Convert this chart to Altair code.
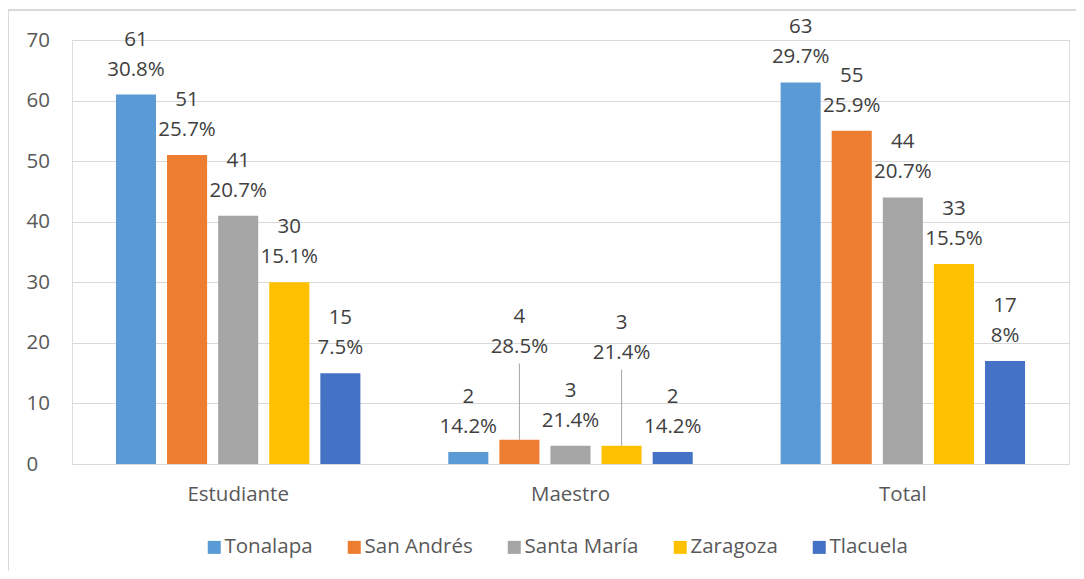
import altair as alt
import pandas as pd

# ---------------- data ----------------
groups = ["Estudiante", "Maestro", "Total"]
series = ["Tonalapa", "San Andrés", "Santa María", "Zaragoza", "Tlacuela"]
colors = ["#5B9BD5", "#ED7D31", "#A5A5A5", "#FFC000", "#4472C4"]

tonalapa = [61, 2, 63]
san_andres = [51, 4, 55]
santa_maria = [41, 3, 44]
zaragoza = [30, 3, 33]
tlacuela = [15, 2, 17]

tonalapa_pct = ["30.8%", "14.2%", "29.7%"]
san_andres_pct = ["25.7%", "28.5%", "25.9%"]
santa_maria_pct = ["20.7%", "21.4%", "20.7%"]
zaragoza_pct = ["15.1%", "21.4%", "15.5%"]
tlacuela_pct = ["7.5%", "14.2%", "8%"]

y_ticks = [0, 10, 20, 30, 40, 50, 60, 70]

# labels that Excel moved up with a leader line
leader_labels = {("Maestro", "San Andrés"), ("Maestro", "Zaragoza")}

FONT = "Open Sans"
LABEL_LIFT = 11.2   # axis units the moved labels are raised
LEADER_TOP = 12.6   # axis units where leader line ends

values = [tonalapa, san_andres, santa_maria, zaragoza, tlacuela]
pcts = [tonalapa_pct, san_andres_pct, santa_maria_pct, zaragoza_pct, tlacuela_pct]

rows = []
for s, vals, ps in zip(series, values, pcts):
    for g, v, p in zip(groups, vals, ps):
        lead = (g, s) in leader_labels
        rows.append({
            "group": g, "series": s, "value": v, "pct": p,
            "labely": v + (LABEL_LIFT if lead else 0),
            "leadtop": v + LEADER_TOP,
            "lead": lead,
        })
df = pd.DataFrame(rows)

x_enc = alt.X(
    "group:N", sort=groups,
    scale=alt.Scale(paddingInner=0, paddingOuter=0),
    axis=alt.Axis(title=None, labelAngle=0, domain=False, ticks=False, grid=False,
                  labelFontSize=20.5, labelColor="#595959", labelFont=FONT,
                  labelPadding=20),
)
xoff_enc = alt.XOffset(
    "series:N", sort=series,
    scale=alt.Scale(paddingInner=0.216, paddingOuter=0.86),
)
y_scale = alt.Scale(domain=[0, 70], nice=False)

bars = alt.Chart(df).mark_bar().encode(
    x=x_enc,
    xOffset=xoff_enc,
    y=alt.Y("value:Q", scale=y_scale,
            axis=alt.Axis(values=y_ticks, title=None, grid=True, gridColor="#d9d9d9",
                          gridWidth=1.2, domain=False, ticks=False, tickSize=0,
                          labelAlign="left", labelPadding=46, labelFontSize=20.5,
                          labelColor="#595959", labelFont=FONT, labelBaseline="middle")),
    color=alt.Color("series:N", sort=series,
                    scale=alt.Scale(domain=series, range=colors),
                    legend=alt.Legend(title=None, orient="none", legendX=132, legendY=497,
                                      direction="horizontal", symbolType="square",
                                      symbolSize=169, symbolStrokeWidth=0,
                                      labelFontSize=20.5, labelColor="#595959",
                                      labelFont=FONT, columnPadding=31, labelOffset=0)),
)

pct_text = alt.Chart(df).mark_text(
    dy=-25, fontSize=20.5, color="#404040", font=FONT, baseline="middle"
).encode(x=x_enc, xOffset=xoff_enc, y=alt.Y("labely:Q", scale=y_scale), text="pct:N")

val_text = alt.Chart(df).mark_text(
    dy=-55, fontSize=20.5, color="#404040", font=FONT, baseline="middle"
).encode(x=x_enc, xOffset=xoff_enc, y=alt.Y("labely:Q", scale=y_scale), text="value:Q")

leaders = alt.Chart(df).transform_filter("datum.lead").mark_rule(
    color="#a6a6a6", strokeWidth=1
).encode(x=x_enc, xOffset=xoff_enc, y=alt.Y("value:Q", scale=y_scale), y2="leadtop:Q")

# chart-area border (top and left edges visible in the reference)
border_top = alt.Chart(df).mark_rule(color="#d9d9d9", strokeWidth=1.5).encode(
    x=alt.value(-64), x2=alt.value(1015), y=alt.value(-30))
border_left = alt.Chart(df).mark_rule(color="#d9d9d9", strokeWidth=1.5).encode(
    x=alt.value(-64), y=alt.value(-30), y2=alt.value(540))

chart = alt.layer(border_top, border_left, bars, leaders, pct_text, val_text).properties(
    width=997, height=424,
    padding={"left": 64, "top": 32, "right": 7, "bottom": 107},
    autosize=alt.AutoSizeParams(type="none"),
).configure_view(stroke=None).configure(background="white")

chart.save("out.html", embed_options={"renderer": "svg", "actions": False})
